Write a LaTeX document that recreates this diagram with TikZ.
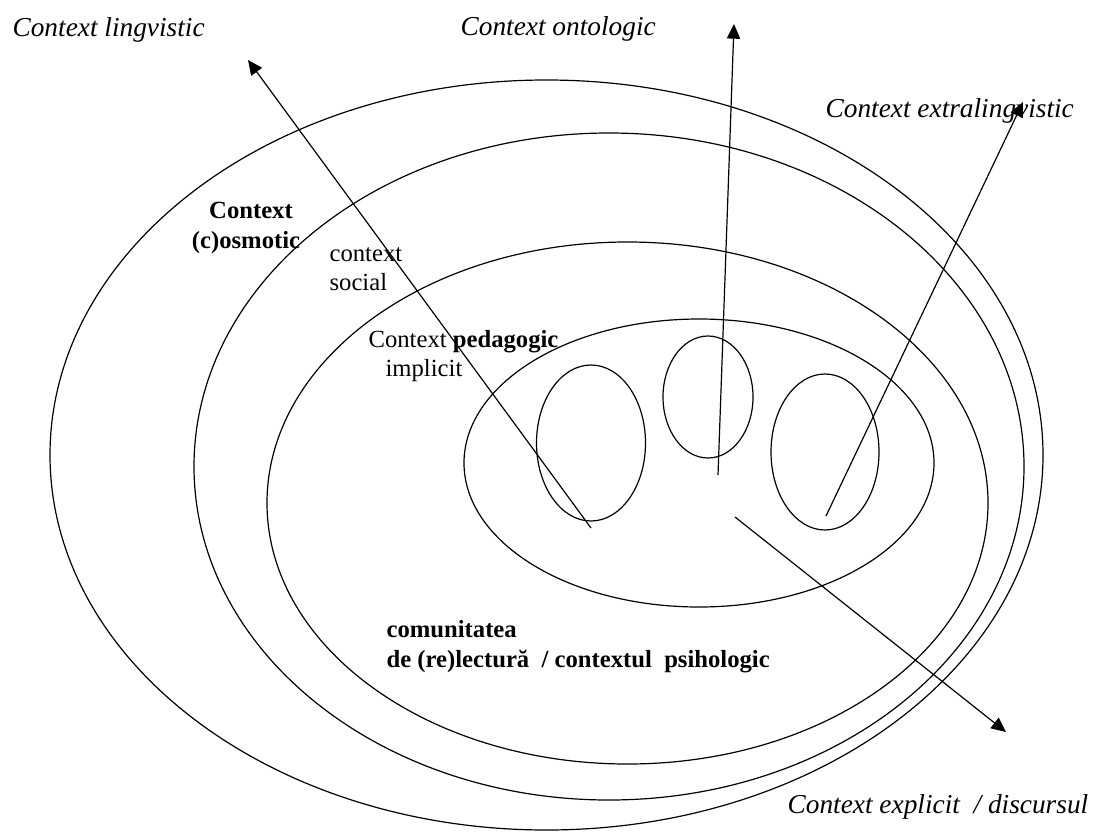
\documentclass[tikz,border=0pt]{standalone}
\usepackage{fontspec}
\setmainfont{Liberation Serif}
\usetikzlibrary{arrows.meta}

\begin{document}
\begin{tikzpicture}[%
    x=0.75pt, y=-0.75pt,        % work in pixels of the page, y going down
    >={Triangle[length=11pt,width=10pt]}, % solid arrow heads
    line width=0.9pt,
    ]
% -------------------------------------------------
% Styles for rings, pointers and labels
\tikzset{
  ring/.style={draw},
  pointer/.style={->, draw},
  outer/.style={anchor=base west, inner sep=0pt,
    font={\fontsize{20.5}{24}\selectfont\itshape}},
  inner/.style={anchor=base west, inner sep=0pt,
    font={\fontsize{18.5}{22}\selectfont}},
  heavy/.style={inner, font={\fontsize{18.5}{22}\selectfont\bfseries}}
}
\useasboundingbox (0,0) rectangle (1099,832);
% -------------------------------------------------
% The nested rings, outermost first
\draw [ring] (546.5,455) ellipse [x radius=496.5, y radius=375];
\draw [ring] (609,466.5) ellipse [x radius=415, y radius=333.5];
\draw [ring] (627.5,503) ellipse [x radius=360.5, y radius=261];
\draw [ring] (699,463) ellipse [x radius=235, y radius=144];
% the three small ones inside
\draw [ring] (591,443) ellipse [x radius=54.5, y radius=78];
\draw [ring] (708,397) ellipse [x radius=45, y radius=61];
\draw [ring] (825,452) ellipse [x radius=54, y radius=78];

% -------------------------------------------------
% Labels
\node [outer] (lingv) at (12,36) {Context lingvistic};
\node [outer] (onto) at (460,35) {Context ontologic};
\node [outer] (extra) at (825,117) {Context extralingvistic};
\node [outer] (expl) at (787,813) {Context explicit \ / discursul};

\node [heavy, anchor=base] (cosm) at (251,218) {Context};
\node [heavy, anchor=base] (cosm2) at (246,248) {(c)osmotic};
\node [inner] (soc) at (329,261) {context};
\node [inner] (soc2) at (329,290) {social};
\node [inner] (ped) at (368,347) {Context \textbf{pedagogic}};
\node [inner] (ped2) at (385,376) {implicit};
\node [heavy] (com) at (386,637) {comunitatea};
\node [heavy] (com2) at (386,667) {de (re)lectură \ / contextul \ psihologic};

% -------------------------------------------------
% Pointers out of the small rings
\coordinate (lingv0) at (591,528);  \coordinate (lingv1) at (248,60);
\coordinate (onto0)  at (718,475);  \coordinate (onto1)  at (734,24);
\coordinate (extra0) at (826,516);  \coordinate (extra1) at (1023,102);
\coordinate (expl0)  at (735,517);  \coordinate (expl1)  at (1006,732);

\draw [pointer] (lingv0) -- (lingv1);
\draw [pointer] (onto0) -- (onto1);
\draw [pointer] (extra0) -- (extra1);
\draw [pointer] (expl0) -- (expl1);
% -------------------------------------------------
\end{tikzpicture}
\end{document}
